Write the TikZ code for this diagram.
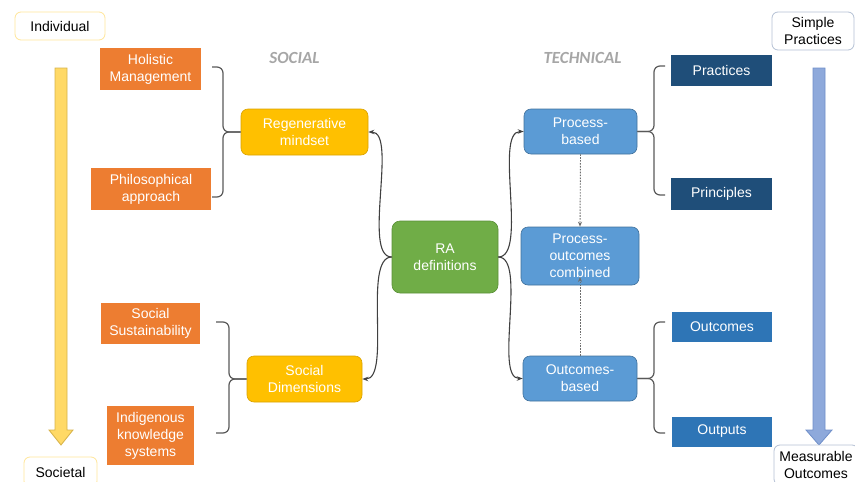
\documentclass[tikz,border=0pt]{standalone}
\usepackage{fontspec}
\setmainfont{Liberation Sans}
\newfontfamily\headfont{Carlito}
\usetikzlibrary{arrows.meta}

\definecolor{socialorange}{HTML}{ED7D31}
\definecolor{mindyellow}{HTML}{FFC000}
\definecolor{mindedge}{HTML}{D9A200}
\definecolor{ragreen}{HTML}{70AD47}
\definecolor{raedge}{HTML}{5A9038}
\definecolor{techblue}{HTML}{5B9BD5}
\definecolor{techedge}{HTML}{41719C}
\definecolor{navy}{HTML}{1F4E79}
\definecolor{midblue}{HTML}{2E75B6}
\definecolor{linegray}{HTML}{404040}
\definecolor{dotgray}{HTML}{6E6E6E}
\definecolor{bracegray}{HTML}{595959}
\definecolor{headgray}{HTML}{A6A6A6}
\definecolor{scaleyellow}{HTML}{FFD966}
\definecolor{scaleyellowedge}{HTML}{D6B24A}
\definecolor{scaleblue}{HTML}{8EA9DB}
\definecolor{scaleblueedge}{HTML}{6F8FC9}
\definecolor{tagyellow}{HTML}{FFE699}
\definecolor{tagblue}{HTML}{B4C0D4}

\begin{document}
\begin{tikzpicture}[x=1pt,y=-1pt,
  every node/.style={font=\fontsize{14}{17}\selectfont, align=center, inner sep=0pt},
  tagbox/.style={draw, fill=white, line width=0.8pt, rounded corners=6pt, text=black},
  socialbox/.style={fill=socialorange, text=white},
  mindbox/.style={fill=mindyellow, draw=mindedge, line width=0.6pt, rounded corners=7pt, text=white},
  rabox/.style={fill=ragreen, draw=raedge, line width=0.6pt, rounded corners=8pt, text=white},
  techbox/.style={fill=techblue, draw=techedge, line width=0.6pt, rounded corners=7pt, text=white},
  leafbox/.style={text=white},
  heading/.style={font=\headfont\bfseries\itshape\fontsize{17}{20}\selectfont, text=headgray},
  conn/.style={draw=linegray, line width=1.1pt, -{Stealth[length=6pt,width=4.5pt]}},
  dotconn/.style={draw=dotgray, line width=0.9pt, dash pattern=on 1.6pt off 1.3pt, -{Stealth[length=5pt,width=4pt]}},
  bracket/.style={draw=bracegray, line width=1.2pt, rounded corners=6pt},
]
\useasboundingbox (0,0) rectangle (855,482);

% scale arrows on both sides
\draw[fill=scaleyellow, draw=scaleyellowedge, line width=0.8pt]
  (55,68) -- (67,68) -- (67,430) -- (73,430) -- (61,445) -- (49,430) -- (55,430) -- cycle;
\draw[fill=scaleblue, draw=scaleblueedge, line width=0.8pt]
  (813,68) -- (825,68) -- (825,430) -- (832,430) -- (819,445) -- (806,430) -- (813,430) -- cycle;

% scale end labels
\node[tagbox, draw=tagyellow, minimum width=90pt, minimum height=28pt] (indiv) at (60,26) {Individual};
\node[tagbox, draw=tagyellow, minimum width=73pt, minimum height=30pt] (soc) at (60.5,472) {Societal};
\node[tagbox, draw=tagblue, minimum width=82pt, minimum height=38pt] (simple) at (813,31) {Simple\\Practices};
\node[tagbox, draw=tagblue, minimum width=84pt, minimum height=40pt] (measure) at (816,465) {Measurable\\Outcomes};

% headings
\node[heading] (hsocial) at (294.5,58) {SOCIAL};
\node[heading] (htech) at (582.5,58) {TECHNICAL};

% social side
\node[socialbox, minimum width=101pt, minimum height=42pt] (holistic) at (150.5,69) {Holistic\\Management};
\node[socialbox, minimum width=120pt, minimum height=42pt] (philo) at (151,189) {Philosophical\\approach};
\node[socialbox, minimum width=99pt, minimum height=41pt] (socsus) at (150.5,323.5) {Social\\Sustainability};
\node[socialbox, minimum width=87pt, minimum height=59pt] (indig) at (150.5,435.5) {Indigenous\\knowledge\\systems};

\node[mindbox, minimum width=127pt, minimum height=46pt] (regen) at (304.5,132) {Regenerative\\mindset};
\node[mindbox, minimum width=115pt, minimum height=46pt] (socdim) at (304.5,379) {Social\\Dimensions};

% centre
\node[rabox, minimum width=106pt, minimum height=72pt] (ra) at (445,257) {RA\\definitions};

% technical side
\node[techbox, minimum width=113pt, minimum height=45pt] (pb) at (580.5,131.5) {Process-\\based};
\node[techbox, minimum width=118pt, minimum height=58pt] (poc) at (580,256) {Process-\\outcomes\\combined};
\node[techbox, minimum width=114pt, minimum height=45pt] (ob) at (580,378.5) {Outcomes-\\based};

\node[leafbox, fill=navy, minimum width=101pt, minimum height=31pt] (practices) at (721.5,70.5) {Practices};
\node[leafbox, fill=navy, minimum width=101pt, minimum height=32pt] (principles) at (721.5,194) {Principles};
\node[leafbox, fill=midblue, minimum width=100pt, minimum height=30pt] (outcomes) at (722,327) {Outcomes};
\node[leafbox, fill=midblue, minimum width=100pt, minimum height=30pt] (outputs) at (722,431.5) {Outputs};

% brackets grouping the social concepts
\draw[bracket] (212,67) -- (223,67) -- (regen.west -| 223,0) -- (regen.west);
\draw[bracket] (212,197) -- (223,197) -- (regen.west -| 223,0) -- (regen.west);
\draw[bracket] (216,322) -- (229,322) -- (socdim.west -| 229,0) -- (socdim.west);
\draw[bracket] (216,433) -- (229,433) -- (socdim.west -| 229,0) -- (socdim.west);

% brackets grouping the technical concepts
\draw[bracket] (665,66) -- (654,66) -- (pb.east -| 654,0) -- (pb.east);
\draw[bracket] (665,195) -- (654,195) -- (pb.east -| 654,0) -- (pb.east);
\draw[bracket] (665,322) -- (654,322) -- (ob.east -| 654,0) -- (ob.east);
\draw[bracket] (665,433) -- (654,433) -- (ob.east -| 654,0) -- (ob.east);

% curved links from the centre
\draw[conn] (ra.west) to[out=180, in=0, looseness=0.6] (regen.east);
\draw[conn] (ra.west) to[out=180, in=0, looseness=0.6] (socdim.east);
\draw[conn] (ra.east) to[out=0, in=180, looseness=0.6] (pb.west);
\draw[conn] (ra.east) to[out=0, in=180, looseness=0.6] (ob.west);

% dotted links into the combined definition
\coordinate (pocin) at (580,277);
\draw[dotconn] (pb.south) -- (poc.north);
\draw[dotconn] (ob.north) -- (pocin);
\end{tikzpicture}
\end{document}
